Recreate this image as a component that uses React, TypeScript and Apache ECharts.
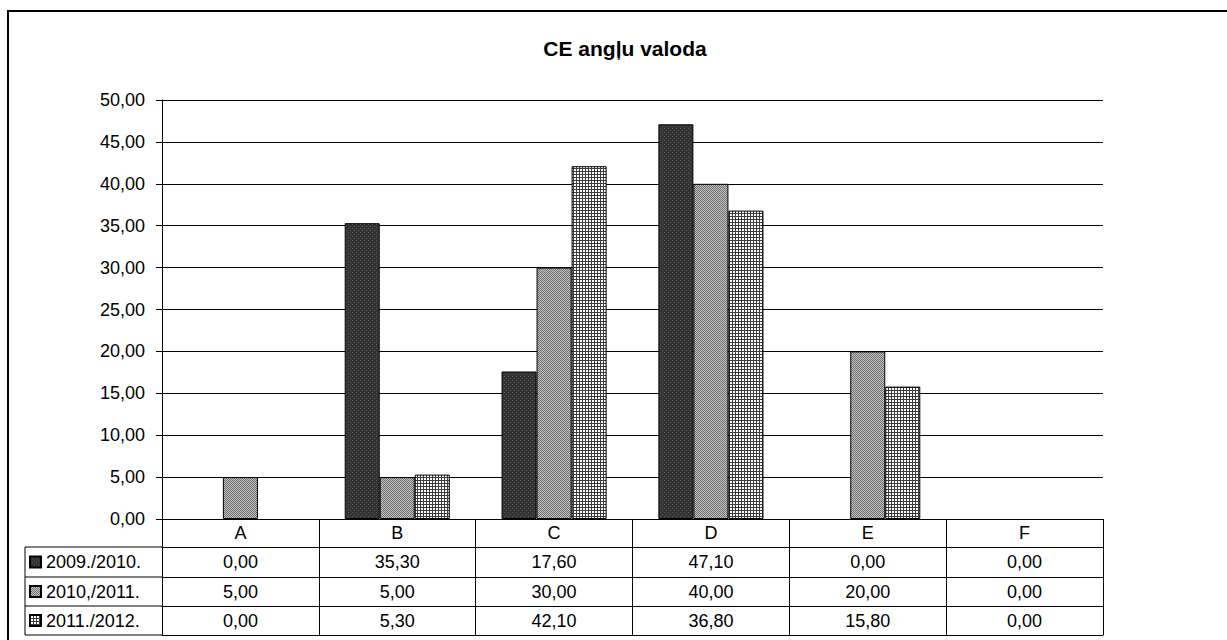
import React, { useEffect, useRef } from 'react';
import * as echarts from 'echarts';

const titleText = 'CE angļu valoda';
const categories = ['A', 'B', 'C', 'D', 'E', 'F'];
const seriesNames = ['2009./2010.', '2010,/2011.', '2011./2012.'];
const values2009 = [0, 35.3, 17.6, 47.1, 0, 0];
const values2010 = [5, 5, 30, 40, 20, 0];
const values2011 = [0, 5.3, 42.1, 36.8, 15.8, 0];
const seriesValues = [values2009, values2010, values2011];
const yMin = 0;
const yMax = 50;
const yInterval = 5;

const FONT = 'Liberation Sans, Arial, sans-serif';
const fmt = (v: number) => v.toFixed(2).replace('.', ',');

function makePattern(kind: number) {
  const c = document.createElement('canvas');
  if (kind === 0) {
    c.width = 4; c.height = 4;
    const ctx = c.getContext('2d')!;
    ctx.fillStyle = '#333333'; ctx.fillRect(0, 0, 4, 4);
    ctx.fillStyle = '#575757'; ctx.fillRect(0, 0, 1, 1); ctx.fillRect(2, 2, 1, 1);
  } else if (kind === 1) {
    c.width = 2; c.height = 2;
    const ctx = c.getContext('2d')!;
    ctx.fillStyle = '#c4c4c4'; ctx.fillRect(0, 0, 2, 2);
    ctx.fillStyle = '#6e6e6e'; ctx.fillRect(0, 0, 1, 1); ctx.fillRect(1, 1, 1, 1);
  } else {
    c.width = 3; c.height = 3;
    const ctx = c.getContext('2d')!;
    ctx.fillStyle = '#ffffff'; ctx.fillRect(0, 0, 3, 3);
    ctx.fillStyle = '#3c3c3c'; ctx.fillRect(0, 0, 3, 1); ctx.fillRect(0, 0, 1, 3);
  }
  return { image: c, repeat: 'repeat' } as any;
}

export default function App() {
  const ref = useRef<HTMLDivElement>(null);
  useEffect(() => {
    const chart = echarts.init(ref.current!, null, { renderer: 'svg' });
    const gridLeft = 162, gridRight = 1103, gridTop = 100, gridBottom = 519;
    const rowOffsets = [28, 58, 87];
    const tableBottomOffset = 116;
    const rowCenters = [562, 591.5, 620.5];

    const xAxes: any[] = [
      {
        type: 'category', data: categories, position: 'bottom', gridIndex: 0,
        boundaryGap: true,
        axisLine: { show: true, lineStyle: { color: '#000', width: 1 } },
        axisTick: { show: true, length: tableBottomOffset, lineStyle: { color: '#000', width: 1 } },
        axisLabel: { interval: 0, margin: 14, verticalAlign: 'middle', fontSize: 18, color: '#000', fontFamily: FONT },
      },
    ];
    seriesValues.forEach((vals, r) => {
      xAxes.push({
        type: 'category', data: categories, position: 'bottom', offset: rowOffsets[r], gridIndex: 0,
        boundaryGap: true,
        axisLine: { show: true, lineStyle: { color: '#000', width: 1 } },
        axisTick: { show: false },
        axisLabel: {
          interval: 0, margin: rowCenters[r] - (gridBottom + rowOffsets[r]), verticalAlign: 'middle',
          fontSize: 18, color: '#000', fontFamily: FONT,
          formatter: (_v: string, idx: number) => fmt(vals[idx]),
        },
      });
    });
    xAxes.push({
      type: 'category', data: categories, position: 'bottom', offset: tableBottomOffset, gridIndex: 0,
      axisLine: { show: true, lineStyle: { color: '#000', width: 1 } },
      axisTick: { show: false }, axisLabel: { show: false },
    });

    const patterns = [makePattern(0), makePattern(1), makePattern(2)];

    const lineY = [gridBottom + rowOffsets[0], gridBottom + rowOffsets[1], gridBottom + rowOffsets[2], gridBottom + tableBottomOffset];
    const graphics: any[] = [
      { type: 'rect', shape: { x: 8, y: 11, width: 1400, height: 800 }, style: { fill: 'none', stroke: '#000', lineWidth: 2 }, silent: true },
      { type: 'line', shape: { x1: 25, y1: lineY[0], x2: 25, y2: lineY[3] }, style: { stroke: '#000', lineWidth: 1 } },
      ...lineY.map((y) => ({ type: 'line', shape: { x1: 25, y1: y, x2: gridLeft, y2: y }, style: { stroke: '#000', lineWidth: 1 } })),
    ];

    chart.setOption({
      animation: false,
      backgroundColor: '#fff',
      title: {
        text: titleText, left: 620, top: 33, textAlign: 'center',
        textStyle: { fontSize: 21, fontWeight: 'bold', color: '#000', fontFamily: FONT },
      },
      legend: seriesNames.map((n, i) => ({
        data: [n], orient: 'vertical', left: 29, top: rowCenters[i] - 9, padding: 0,
        itemWidth: 11, itemHeight: 11, icon: 'rect', selectedMode: false,
        textStyle: { fontSize: 18, color: '#000', fontFamily: FONT },
      })),
      grid: { left: gridLeft, right: 1227 - gridRight, top: gridTop, bottom: 640 - gridBottom, containLabel: false },
      xAxis: xAxes,
      yAxis: {
        type: 'value', min: yMin, max: yMax, interval: yInterval,
        axisLine: { show: true, lineStyle: { color: '#000', width: 1 } },
        axisTick: { show: true, length: 6, lineStyle: { color: '#000' } },
        axisLabel: { margin: 17, fontSize: 18, color: '#000', fontFamily: FONT, formatter: (v: number) => fmt(v) },
        splitLine: { show: true, lineStyle: { color: '#000', width: 1 } },
      },
      series: seriesNames.map((n, i) => ({
        name: n, type: 'bar', xAxisIndex: 0,
        data: seriesValues[i].map((v) => (v === 0 ? { value: v, itemStyle: { borderWidth: 0 } } : v)),
        barGap: '0%', barCategoryGap: '33%',
        itemStyle: { color: patterns[i], borderColor: '#000', borderWidth: 1 },
      })),
      graphic: graphics,
    });
    return () => chart.dispose();
  }, []);
  return <div ref={ref} style={{ position: 'fixed', left: 0, top: 0, width: 1227, height: 640 }} />;
}
